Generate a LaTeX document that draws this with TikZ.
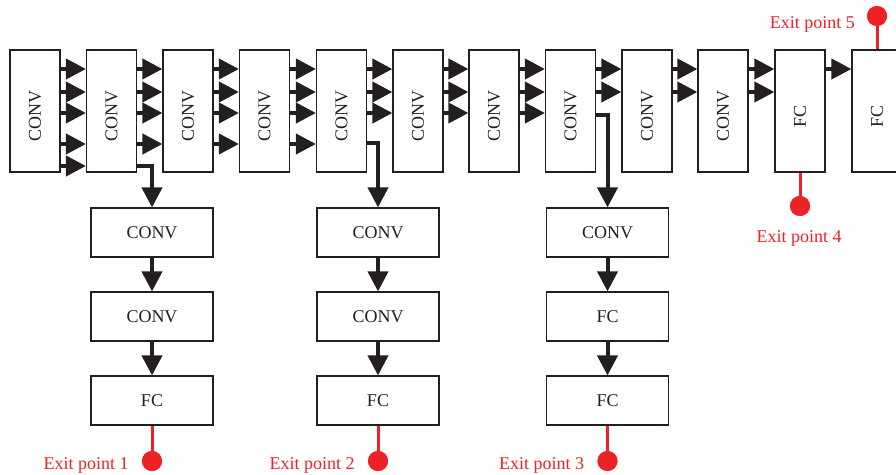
\documentclass[tikz,border=0pt]{standalone}
\usepackage{fontspec}
\setmainfont{Liberation Serif}
\usetikzlibrary{arrows.meta,positioning}
\definecolor{ink}{HTML}{231F20}
\definecolor{exitred}{HTML}{EC2227}
\begin{document}
\begin{tikzpicture}[x=1pt,y=-1pt,
  font=\fontsize{18}{21}\selectfont,
  topbox/.style={draw=ink,line width=1.2pt,minimum width=50pt,minimum height=122pt,inner sep=0pt},
  brbox/.style={draw=ink,line width=1.2pt,minimum width=122pt,minimum height=49pt,inner sep=0pt,text=ink},
  arr/.style={draw=ink,line width=4pt,-{Triangle[length=20pt,width=20pt]}},
  exitline/.style={draw=exitred,line width=3pt},
  exitdot/.style={circle,fill=exitred,minimum size=20pt,inner sep=0pt},
  exitlbl/.style={text=exitred,inner sep=0pt},
  toplbl/.style={rotate=90,text=ink,inner sep=0pt}]
\useasboundingbox (0,0) rectangle (896,474);
\clip (0,0) rectangle (896,474);

% top row
\foreach \i/\x/\t in {1/35/CONV,2/111.5/CONV,3/188/CONV,4/264.5/CONV,5/341.5/CONV,
  6/418/CONV,7/494/CONV,8/570.5/CONV,9/647/CONV,10/723/CONV,11/800/FC,12/877/FC}{
  \node[topbox] (b\i) at (\x,111) {};
  \node[toplbl] (t\i) at (\x,116) {\t};
}

% arrows between top boxes
\foreach \a/\b/\ys in {1/2/{69,92,113,144,166},2/3/{69,92,113,144},3/4/{69,92,113,144},
  4/5/{69,92,113,144},5/6/{69,92,113},6/7/{69,92,113},7/8/{69,92,113},
  8/9/{69,92},9/10/{69,92},10/11/{69,92},11/12/{69}}{
  \foreach \yy in \ys {
    \draw[arr] (b\a.east |- 0,\yy) -- (b\b.west |- 0,\yy);
  }
}

% branch boxes
\foreach \c/\x/\ta/\tb/\tc in {1/152/CONV/CONV/FC,2/378/CONV/CONV/FC,3/607.5/CONV/FC/FC}{
  \node[brbox] (c\c a) at (\x,232.5) {\ta};
  \node[brbox] (c\c b) at (\x,316.5) {\tb};
  \node[brbox] (c\c c) at (\x,400.5) {\tc};
  \draw[arr] (c\c a.south) -- (c\c b.north);
  \draw[arr] (c\c b.south) -- (c\c c.north);
}

% branch connectors
\draw[arr] (b2.east |- 0,166) -| (c1a.north);
\draw[arr] (b5.east |- 0,143) -| (c2a.north);
\draw[arr] (b8.east |- 0,115) -| (c3a.north);

% exit points 1-3
\foreach \c/\x/\n in {1/152/1,2/378/2,3/607.5/3}{
  \node[exitdot] (e\n) at (\x,461) {};
  \draw[exitline] (c\c c.south) -- (e\n.center);
  \node[exitdot] at (e\n) {};
  \node[exitlbl,anchor=base east] (l\n) at ([xshift=-13pt]e\n.west |- 0,469) {Exit point \n};
}

% exit point 4
\node[exitdot] (e4) at (800,206) {};
\draw[exitline] (b11.south) -- (e4.center);
\node[exitdot] at (e4) {};
\node[exitlbl,anchor=base] (l4) at (799,242) {Exit point 4};

% exit point 5
\node[exitdot] (e5) at (877,16) {};
\draw[exitline] (e5.center) -- (b12.north);
\node[exitdot] at (e5) {};
\node[exitlbl,anchor=base east] (l5) at (855,28) {Exit point 5};
\end{tikzpicture}
\end{document}
